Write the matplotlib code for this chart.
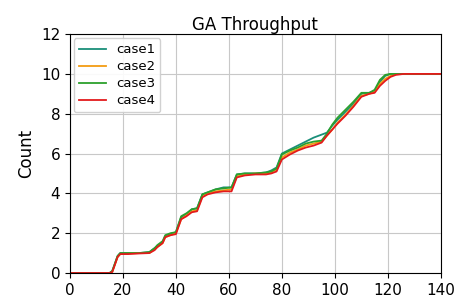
import numpy as np
import matplotlib
matplotlib.use("Agg")
import matplotlib.pyplot as plt

# time axis shared by every case
t = [0, 15, 16, 18, 19, 22, 26, 30, 32, 33, 35, 36, 38, 40, 42, 44, 46, 48, 50,
     52, 55, 58, 61, 63, 66, 70, 74, 76, 78, 80, 83, 86, 89, 92, 95, 97, 99, 101,
     104, 107, 110, 113, 115, 117, 119, 121, 123, 126, 130, 140]

case1 = [0, 0, 0.1, 0.85, 1.0, 1.0, 1.0, 1.05, 1.25, 1.35, 1.55, 1.85, 1.95, 2.05, 2.8, 2.95,
         3.2, 3.25, 3.95, 4.05, 4.2, 4.3, 4.3, 4.95, 5.0, 5.0, 5.05, 5.15, 5.3, 6.0, 6.2, 6.4,
         6.6, 6.8, 6.95, 7.05, 7.4, 7.7, 8.1, 8.5, 9.0, 9.05, 9.15, 9.6, 9.9, 10.0, 10.0, 10.0, 10.0, 10.0]
case2 = [0, 0, 0.05, 0.8, 0.95, 0.98, 1.0, 1.0, 1.2, 1.3, 1.5, 1.8, 1.9, 2.0, 2.7, 2.9,
         3.1, 3.15, 3.85, 4.0, 4.1, 4.15, 4.2, 4.85, 4.95, 5.0, 5.0, 5.05, 5.2, 5.8, 6.05, 6.2,
         6.4, 6.5, 6.6, 6.9, 7.2, 7.55, 7.95, 8.4, 8.9, 9.0, 9.1, 9.5, 9.75, 9.9, 10.0, 10.0, 10.0, 10.0]
case3 = [0, 0, 0.1, 0.85, 1.0, 1.0, 1.0, 1.05, 1.25, 1.4, 1.6, 1.9, 2.0, 2.05, 2.85, 3.0,
         3.2, 3.25, 3.95, 4.05, 4.2, 4.25, 4.3, 4.95, 5.0, 5.0, 5.05, 5.1, 5.25, 5.95, 6.15, 6.3,
         6.5, 6.6, 6.65, 7.0, 7.45, 7.8, 8.2, 8.6, 9.05, 9.05, 9.2, 9.7, 9.95, 10.0, 10.0, 10.0, 10.0, 10.0]
case4 = [0, 0, 0.05, 0.8, 0.95, 0.95, 0.98, 1.0, 1.15, 1.3, 1.5, 1.8, 1.9, 1.95, 2.7, 2.85,
         3.05, 3.1, 3.8, 3.95, 4.05, 4.1, 4.1, 4.8, 4.9, 4.95, 4.95, 5.0, 5.1, 5.7, 5.95, 6.15,
         6.3, 6.4, 6.55, 6.9, 7.2, 7.5, 7.9, 8.35, 8.85, 9.0, 9.05, 9.4, 9.65, 9.85, 9.95, 10.0, 10.0, 10.0]

fig = plt.figure(figsize=(4.69, 2.99), dpi=100)
ax = fig.add_axes([0.149, 0.087, 0.791, 0.799])

ax.plot(t, case1, color="#1a8f7a", lw=1.3, label="case1")
ax.plot(t, case2, color="#f39c12", lw=1.3, label="case2")
ax.plot(t, case3, color="#2ca02c", lw=1.3, label="case3")
ax.plot(t, case4, color="#e31a1c", lw=1.3, label="case4")

ax.set_xlim(0, 140)
ax.set_ylim(0, 12)
ax.set_xticks(np.arange(0, 141, 20))
ax.set_yticks(np.arange(0, 13, 2))
ax.tick_params(labelsize=11)
ax.grid(True, color="#c8c8c8", lw=0.8)
ax.set_axisbelow(True)
ax.set_title("GA Throughput", fontsize=12, pad=3)
ax.set_ylabel("Count", fontsize=12)
ax.legend(loc="upper left", fontsize=9.5, handlelength=2.0, labelspacing=0.3,
          borderpad=0.4, borderaxespad=0.3, framealpha=0.9)

fig.savefig("out.png", dpi=100)
